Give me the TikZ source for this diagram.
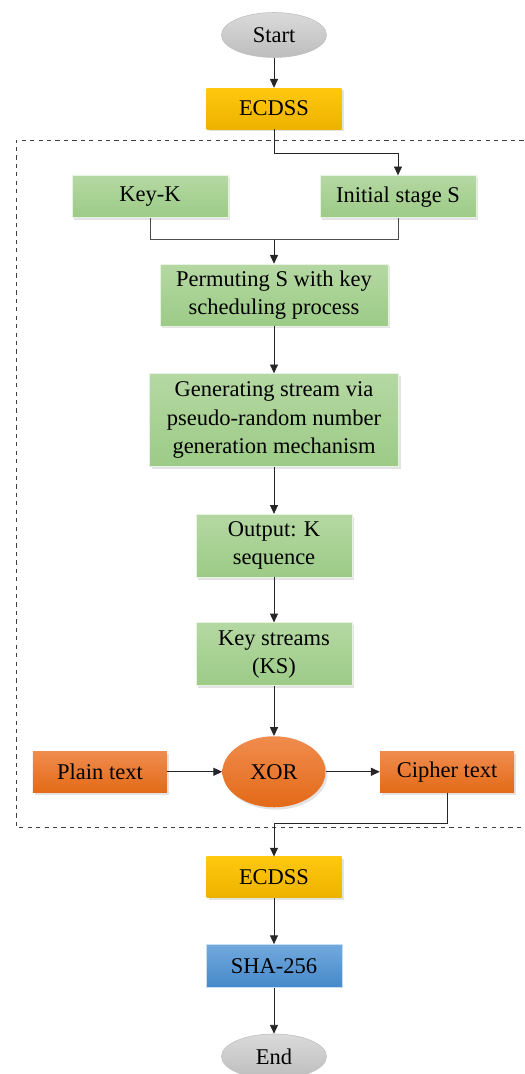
\documentclass[tikz,border=0pt]{standalone}
\usepackage{fontspec}
\setmainfont{LiberationSerif}[Extension=.ttf, UprightFont=*-Regular, BoldFont=*-Bold]
\usepackage{tikz}
\usetikzlibrary{shapes.geometric, arrows.meta, positioning, shadows}
\definecolor{greytop}{HTML}{DADADA}
\definecolor{greybot}{HTML}{BDBDBD}
\definecolor{goldtop}{HTML}{FFC90E}
\definecolor{goldbot}{HTML}{EDB200}
\definecolor{greentop}{HTML}{B5D8A3}
\definecolor{greenbot}{HTML}{9CCB86}
\definecolor{orangetop}{HTML}{F08C4E}
\definecolor{orangebot}{HTML}{E36A18}
\definecolor{bluetop}{HTML}{72A9DD}
\definecolor{bluebot}{HTML}{4689CA}

\begin{document}
\begin{tikzpicture}[
          font=\fontsize{16}{20}\selectfont,
          softshadow/.style={drop shadow={opacity=0.22, shadow xshift=0.05cm, shadow yshift=-0.06cm}},
          terminal/.style={ellipse, draw=black!25, top color=greytop, bottom color=greybot, minimum width=2.625cm, minimum height=1.125cm, inner sep=0pt},
          signbox/.style={rectangle, softshadow, top color=goldtop, bottom color=goldbot, minimum width=3.375cm, minimum height=1.025cm, inner sep=2pt, align=center},
          stepbox/.style={rectangle, softshadow, draw=white!70!greentop, top color=greentop, bottom color=greenbot, minimum width=3.9cm, minimum height=1.05cm, inner sep=2pt, align=center},
          textbox/.style={rectangle, softshadow, top color=orangetop, bottom color=orangebot, minimum width=3.35cm, minimum height=1.025cm, inner sep=2pt, align=center},
          hashbox/.style={rectangle, draw=white!60!bluetop, top color=bluetop, bottom color=bluebot, minimum width=3.4cm, minimum height=1.075cm, inner sep=2pt, align=center},
          arrow/.style={-{Triangle[length=2.2mm,width=2mm]}, line width=0.6pt, draw=black!85},
          link/.style={line width=0.6pt, draw=black!70}
        ]
          \path[use as bounding box, clip] (0,0) rectangle (13.1,-26.85);
          % outer frame
          \draw[dashed, line width=0.7pt, black!75] (13.3,-3.5) -- (0.4,-3.5) -- (0.4,-20.675) -- (13.3,-20.675);

          \node[terminal] (start) at (6.85,-0.875) {Start};
          \node[signbox, below=0.75cm of start] (ecdssA) {ECDSS};
          \node[stepbox, below=1.15cm of ecdssA, xshift=-3.1cm] (keyk) {Key-K};
          \node[stepbox, below=1.15cm of ecdssA, xshift=3.1cm] (init) {Initial stage S};
          \node[stepbox, below=3.36cm of ecdssA, minimum width=5.7cm, minimum height=1.55cm] (perm) {Permuting S with key\\scheduling process};
          \node[stepbox, below=1.175cm of perm, minimum width=6.225cm, minimum height=2.325cm] (gen) {Generating stream via\\pseudo-random number\\generation mechanism};
          \node[stepbox, below=1.175cm of gen, minimum height=1.575cm] (output) {Output: K\\sequence};
          \node[stepbox, below=1.125cm of output, minimum height=1.575cm] (streams) {Key streams\\(KS)};
          \node[ellipse, softshadow, top color=orangetop, bottom color=orangebot, minimum width=2.575cm, minimum height=1.775cm, inner sep=0pt, below=1.25cm of streams] (xor) {XOR};
          \node[textbox, left=1.375cm of xor] (plain) {Plain text};
          \node[textbox, right=1.35cm of xor] (cipher) {Cipher text};
          \node[signbox, below=1.225cm of xor] (ecdssB) {ECDSS};
          \node[hashbox, below=1.15cm of ecdssB] (sha) {SHA-256};
          \node[terminal, below=1.15cm of sha] (end) {End};

          \draw[arrow] (start) -- (ecdssA);
          \draw[arrow] (ecdssA.south) -- ++(0,-0.59) -| (init.north);
          \draw[link] (keyk.south) |- ([yshift=0.6cm]perm.north) -| (init.south);
          \draw[arrow] ([yshift=0.6cm]perm.north) -- (perm.north);
          \draw[arrow] (perm) -- (gen);
          \draw[arrow] (gen) -- (output);
          \draw[arrow] (output) -- (streams);
          \draw[arrow] (streams) -- (xor);
          \draw[arrow] (plain) -- (xor);
          \draw[arrow] (xor) -- (cipher);
          \draw[arrow] (cipher.south) -- ++(0,-0.775) -| (ecdssB.north);
          \draw[arrow] (ecdssB) -- (sha);
          \draw[arrow] (sha) -- (end);
        \end{tikzpicture}
\end{document}
